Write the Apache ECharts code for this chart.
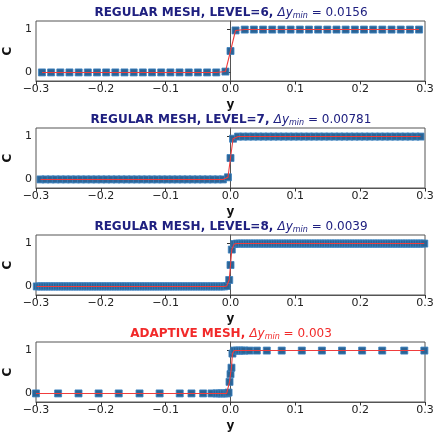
<!DOCTYPE html>
<html>
<head>
<meta charset="utf-8">
<script src="https://cdn.jsdelivr.net/npm/echarts@6/dist/echarts.min.js"></script>
<style>html,body{margin:0;padding:0;background:#fff;}#c{width:434px;height:433px;}</style>
</head>
<body>
<div id="c"></div>
<script>
// ---------- DATA (y = position, C = concentration) ----------
const X_TICKS = [-0.3, -0.2, -0.1, 0.0, 0.1, 0.2, 0.3];
const C_TICKS = [0, 1];
const C_LOW = 0;
const C_HIGH = 1;

const TITLES_MAIN = ['REGULAR MESH, LEVEL=6, ', 'REGULAR MESH, LEVEL=7, ', 'REGULAR MESH, LEVEL=8, ', 'ADAPTIVE MESH, '];
const TITLES_DY = ['0.0156', '0.00781', '0.0039', '0.003'];

// Level 6
const L6_LOW_Y = [-0.2908, -0.2767, -0.2625, -0.2484, -0.2342, -0.2201, -0.2059, -0.1918, -0.1776, -0.1635,
  -0.1493, -0.1352, -0.1210, -0.1069, -0.0927, -0.0786, -0.0644, -0.0503, -0.0361, -0.0220];
const L6_STEP_Y = [-0.0078, 0.0000, 0.0078];
const L6_STEP_C = [0.02, 0.50, 0.98];
const L6_HIGH_Y = [0.0220, 0.0361, 0.0503, 0.0644, 0.0786, 0.0927, 0.1069, 0.1210, 0.1352, 0.1493,
  0.1635, 0.1776, 0.1918, 0.2059, 0.2201, 0.2342, 0.2484, 0.2625, 0.2767, 0.2908];

// Level 7
const L7_LOW_Y = [-0.2930, -0.2852, -0.2773, -0.2695, -0.2617, -0.2539, -0.2461, -0.2383, -0.2305, -0.2227,
  -0.2148, -0.2070, -0.1992, -0.1914, -0.1836, -0.1758, -0.1680, -0.1602, -0.1523, -0.1445,
  -0.1367, -0.1289, -0.1211, -0.1133, -0.1055, -0.0977, -0.0898, -0.0820, -0.0742, -0.0664,
  -0.0586, -0.0508, -0.0430, -0.0352, -0.0273, -0.0195, -0.0117];
const L7_STEP_Y = [-0.0039, 0.0000, 0.0039];
const L7_STEP_C = [0.05, 0.50, 0.95];
const L7_HIGH_Y = [0.0117, 0.0195, 0.0273, 0.0352, 0.0430, 0.0508, 0.0586, 0.0664, 0.0742, 0.0820,
  0.0898, 0.0977, 0.1055, 0.1133, 0.1211, 0.1289, 0.1367, 0.1445, 0.1523, 0.1602,
  0.1680, 0.1758, 0.1836, 0.1914, 0.1992, 0.2070, 0.2148, 0.2227, 0.2305, 0.2383,
  0.2461, 0.2539, 0.2617, 0.2695, 0.2773, 0.2852, 0.2930];

// Level 8
const L8_LOW_Y = [-0.2988, -0.2949, -0.2910, -0.2871, -0.2832, -0.2793, -0.2754, -0.2715, -0.2676, -0.2637,
  -0.2598, -0.2559, -0.2520, -0.2480, -0.2441, -0.2402, -0.2363, -0.2324, -0.2285, -0.2246,
  -0.2207, -0.2168, -0.2129, -0.2090, -0.2051, -0.2012, -0.1973, -0.1934, -0.1895, -0.1855,
  -0.1816, -0.1777, -0.1738, -0.1699, -0.1660, -0.1621, -0.1582, -0.1543, -0.1504, -0.1465,
  -0.1426, -0.1387, -0.1348, -0.1309, -0.1270, -0.1230, -0.1191, -0.1152, -0.1113, -0.1074,
  -0.1035, -0.0996, -0.0957, -0.0918, -0.0879, -0.0840, -0.0801, -0.0762, -0.0723, -0.0684,
  -0.0645, -0.0605, -0.0566, -0.0527, -0.0488, -0.0449, -0.0410, -0.0371, -0.0332, -0.0293,
  -0.0254, -0.0215, -0.0176, -0.0137, -0.0098];
const L8_STEP_Y = [-0.0059, -0.0020, 0.0000, 0.0020, 0.0059];
const L8_STEP_C = [0.01, 0.15, 0.50, 0.86, 0.99];
const L8_HIGH_Y = [0.0098, 0.0137, 0.0176, 0.0215, 0.0254, 0.0293, 0.0332, 0.0371, 0.0410, 0.0449,
  0.0488, 0.0527, 0.0566, 0.0605, 0.0645, 0.0684, 0.0723, 0.0762, 0.0801, 0.0840,
  0.0879, 0.0918, 0.0957, 0.0996, 0.1035, 0.1074, 0.1113, 0.1152, 0.1191, 0.1230,
  0.1270, 0.1309, 0.1348, 0.1387, 0.1426, 0.1465, 0.1504, 0.1543, 0.1582, 0.1621,
  0.1660, 0.1699, 0.1738, 0.1777, 0.1816, 0.1855, 0.1895, 0.1934, 0.1973, 0.2012,
  0.2051, 0.2090, 0.2129, 0.2168, 0.2207, 0.2246, 0.2285, 0.2324, 0.2363, 0.2402,
  0.2441, 0.2480, 0.2520, 0.2559, 0.2598, 0.2637, 0.2676, 0.2715, 0.2754, 0.2793,
  0.2832, 0.2871, 0.2910, 0.2949, 0.2988];

// Adaptive mesh
const AD_LOW_Y = [-0.3000, -0.2659, -0.2344, -0.2034, -0.1724, -0.1403, -0.1093, -0.0783, -0.0602, -0.0422,
  -0.0292, -0.0214, -0.0176, -0.0137, -0.0098, -0.0059];
const AD_STEP_Y = [-0.0030, -0.0015, 0.0000, 0.0015, 0.0030];
const AD_STEP_C = [0.02, 0.27, 0.45, 0.60, 0.93];
const AD_HIGH_Y = [0.0059, 0.0098, 0.0137, 0.0176, 0.0214, 0.0292, 0.0406, 0.0560, 0.0790, 0.1100,
  0.1410, 0.1720, 0.2030, 0.2340, 0.2680, 0.2990];

// ---------- BUILD ----------
function buildPanel(low, stepY, stepC, high) {
  const pts = [];
  low.forEach(v => pts.push([v, C_LOW]));
  stepY.forEach((v, i) => pts.push([v, stepC[i]]));
  high.forEach(v => pts.push([v, C_HIGH]));
  return pts;
}
const PANELS = [
  buildPanel(L6_LOW_Y, L6_STEP_Y, L6_STEP_C, L6_HIGH_Y),
  buildPanel(L7_LOW_Y, L7_STEP_Y, L7_STEP_C, L7_HIGH_Y),
  buildPanel(L8_LOW_Y, L8_STEP_Y, L8_STEP_C, L8_HIGH_Y),
  buildPanel(AD_LOW_Y, AD_STEP_Y, AD_STEP_C, AD_HIGH_Y)
];

const FONT = 'DejaVu Sans';
const TOPS = [21, 128, 235, 342];
const H = 60;
const NAVY = '#1f2080';
const RED = '#f22a2a';

const fmt = v => {
  const s = Math.abs(v) < 1e-9 ? '0.0' : Math.abs(v).toFixed(1);
  return v < -1e-9 ? '\u2212' + s : s;
};

const option = {
  backgroundColor: '#fff',
  animation: false,
  textStyle: { fontFamily: FONT },
  title: [], grid: [], xAxis: [], yAxis: [], series: []
};

PANELS.forEach((data, i) => {
  const col = i === 3 ? RED : NAVY;
  option.title.push({
    text: '{b|' + TITLES_MAIN[i] + '}{i|\u0394y}{s|min}{n| = ' + TITLES_DY[i] + '}',
    left: 231, top: TOPS[i] - 15, textAlign: 'center', padding: 0,
    textStyle: {
      fontWeight: 'normal',
      rich: {
        b: { fontFamily: FONT, fontWeight: 'bold', fontSize: 12, color: col, lineHeight: 14 },
        i: { fontFamily: FONT, fontWeight: 'normal', fontStyle: 'italic', fontSize: 12, color: col, lineHeight: 14 },
        s: { fontFamily: FONT, fontWeight: 'normal', fontStyle: 'italic', fontSize: 8, color: col, lineHeight: 14, verticalAlign: 'bottom', padding: [6, 0, 0, 0] },
        n: { fontFamily: FONT, fontWeight: 'normal', fontSize: 12, color: col, lineHeight: 14 }
      }
    }
  });
  option.grid.push({
    left: 36, right: 9, top: TOPS[i], height: H,
    containLabel: false, outerBoundsMode: 'none',
    show: true, borderColor: '#555', borderWidth: 1, backgroundColor: 'transparent'
  });
  option.xAxis.push({
    gridIndex: i, type: 'value', min: -0.3, max: 0.3,
    name: 'y', nameLocation: 'middle', nameGap: 18,
    nameTextStyle: { fontFamily: FONT, fontWeight: 'bold', fontSize: 12, color: '#111' },
    axisLine: { show: true, onZero: false, lineStyle: { color: '#555', width: 1 } },
    axisTick: { show: true, length: 3.5, customValues: X_TICKS, lineStyle: { color: '#333' } },
    axisLabel: { customValues: X_TICKS, formatter: fmt, fontFamily: FONT, fontSize: 11, color: '#222', margin: 3, showMinLabel: true, showMaxLabel: true, hideOverlap: false },
    splitLine: { show: false }
  });
  option.yAxis.push({
    gridIndex: i, type: 'value', min: -0.2, max: 1.2,
    name: 'C', nameLocation: 'middle', nameGap: 19, nameRotate: 90,
    nameTextStyle: { fontFamily: FONT, fontWeight: 'bold', fontSize: 12, color: '#111' },
    axisLine: { show: true, lineStyle: { color: '#555', width: 1 } },
    axisTick: { show: true, length: 3.5, customValues: C_TICKS, lineStyle: { color: '#333' } },
    axisLabel: { customValues: C_TICKS, fontFamily: FONT, fontSize: 11, color: '#222', margin: 4 },
    splitLine: { show: false }
  });
  option.series.push({
    type: 'scatter', xAxisIndex: i, yAxisIndex: i, data: data,
    symbol: 'rect', symbolSize: 7, z: 2,
    itemStyle: { color: '#2c6495', borderColor: '#3b82c0', borderWidth: 0.8, opacity: 1 }
  });
  option.series.push({
    type: 'line', xAxisIndex: i, yAxisIndex: i, data: data,
    showSymbol: false, symbol: 'none', z: 3,
    lineStyle: { color: '#f03c3c', width: 1.1 }
  });
});

const chart = echarts.init(document.getElementById('c'), null, { renderer: 'canvas' });
chart.setOption(option);
</script>
</body>
</html>
